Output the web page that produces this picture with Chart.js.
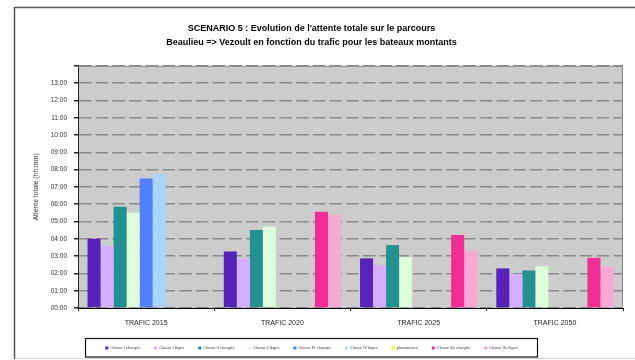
<!DOCTYPE html>
<html>
<head>
<meta charset="utf-8">
<script src="https://cdn.jsdelivr.net/npm/chart.js@4.4.0/dist/chart.umd.min.js"></script>
<style>
    html, body { margin: 0; padding: 0; background: #fff; }
    #wrap { width: 635px; height: 360px; position: relative; }
</style>
</head>
<body>
<div id="wrap"><canvas id="attenteChart" width="635" height="360"></canvas></div>
<script>
// Categories and series (hours)
const categories = ['TRAFIC 2015', 'TRAFIC 2020', 'TRAFIC 2025', 'TRAFIC 2050'];
const classeIChg = [4.0, 3.27, 2.87, 2.29];
const classeILeg = [3.58, 2.84, 2.48, 1.97];
const classeIIChg = [5.86, 4.51, 3.64, 2.17];
const classeIILeg = [5.51, 4.72, 2.94, 2.42];
const classeIVChg = [7.49, null, null, null];
const classeIVLeg = [7.74, null, null, null];
const plaisanciers = [null, null, null, null];
const classeVaChg = [null, 5.57, 4.22, 2.90];
const classeVaLeg = [null, 5.38, 3.33, 2.36];

const seriesLabels = ['Classe I chargés', 'Classe I lèges', 'Classe II chargés', 'Classe II lèges',
    'Classe IV chargés', 'Classe IV lèges', 'plaisanciers', 'Classe Va chargés', 'Classe Va lèges'];
const seriesColors = ['#5722B9', '#D4AFFF', '#239191', '#DCFDD8', '#5080FF', '#ABD5FF', '#FFFF00', '#EE2D97', '#F8A9D3'];
const seriesData = [classeIChg, classeILeg, classeIIChg, classeIILeg, classeIVChg, classeIVLeg, plaisanciers, classeVaChg, classeVaLeg];

const yMax = 14;
const titleLines = ["SCENARIO 5 : Evolution de l'attente totale sur le parcours",
    'Beaulieu => Vezoult en fonction du trafic pour les bateaux montants'];

function fmtHours(v) {
    const h = Math.floor(v);
    return String(h).padStart(2, '0') + ':00';
}

// plot background, plot border, outer frame and legend box
const framePlugin = {
    id: 'frame',
    beforeDraw(chart) {
        const { ctx, chartArea: a } = chart;
        ctx.save();
        ctx.fillStyle = '#CCCCCC';
        ctx.fillRect(a.left, a.top, a.right - a.left, a.bottom - a.top);
        ctx.restore();
    },
    afterDraw(chart) {
        const { ctx, chartArea: a } = chart;
        ctx.save();
        // plot border (top/right)
        ctx.strokeStyle = '#8c8c8c';
        ctx.lineWidth = 1;
        ctx.beginPath();
        ctx.moveTo(a.left, a.top + 0.5);
        ctx.lineTo(a.right - 0.5, a.top + 0.5);
        ctx.lineTo(a.right - 0.5, a.bottom);
        ctx.stroke();
        // outer frame
        ctx.strokeStyle = '#555';
        ctx.lineWidth = 1.5;
        ctx.beginPath();
        ctx.moveTo(635, 7.5);
        ctx.lineTo(14.5, 7.5);
        ctx.lineTo(14.5, 359);
        ctx.stroke();
        ctx.strokeStyle = '#d0d0d0';
        ctx.lineWidth = 1;
        ctx.beginPath();
        ctx.moveTo(15, 358.5);
        ctx.lineTo(635, 358.5);
        ctx.stroke();
        // legend box around the items
        const boxes = chart.legend.legendHitBoxes;
        if (boxes && boxes.length) {
            const first = boxes[0], last = boxes[boxes.length - 1];
            const left = Math.round(first.left) - 19.5;
            const right = Math.round(last.left + last.width) + 19.5;
            ctx.strokeStyle = '#111';
            ctx.lineWidth = 1.2;
            ctx.strokeRect(left, 338.5, right - left, 18.5);
        }
        ctx.restore();
    }
};

const ctx = document.getElementById('attenteChart').getContext('2d');
new Chart(ctx, {
    type: 'bar',
    data: {
        labels: categories,
        datasets: seriesData.map((d, i) => ({
            label: seriesLabels[i],
            data: d,
            backgroundColor: seriesColors[i],
            borderWidth: 0,
            categoryPercentage: 0.86,
            barPercentage: 1
        }))
    },
    options: {
        responsive: false,
        animation: false,
        devicePixelRatio: 1,
        layout: { padding: { left: 0, right: 12, top: 0, bottom: 0 } },
        scales: {
            x: {
                afterFit: s => { s.height = 24; },
                grid: { offset: true, drawOnChartArea: false, drawTicks: true, tickLength: 3, color: '#222' },
                border: { color: '#000', width: 1 },
                ticks: { color: '#222', padding: 8, font: { family: 'Liberation Sans, Arial', size: 7 } }
            },
            y: {
                min: 0,
                max: yMax,
                afterFit: s => { s.width = 78; },
                grid: { color: '#8a8a8a', lineWidth: 1.5, tickLength: 4, tickColor: '#222', tickBorderDash: [] },
                border: { color: '#222', width: 1, dash: [12.5, 4.2] },
                ticks: {
                    stepSize: 1,
                    color: '#333',
                    padding: 7,
                    font: { family: 'Liberation Sans, Arial', size: 6.5 },
                    callback: v => (v >= yMax ? '' : fmtHours(v))
                },
                title: {
                    display: true,
                    text: 'Attente totale (hh:mm)',
                    color: '#333',
                    font: { family: 'Liberation Sans, Arial', size: 6.8 },
                    padding: { top: 32, bottom: 0 }
                }
            }
        },
        plugins: {
            title: {
                display: true,
                text: titleLines,
                color: '#000',
                font: { family: 'Liberation Sans, Arial', size: 9, weight: 'bold', lineHeight: 1.55 },
                padding: { top: 22, bottom: 16 }
            },
            legend: {
                position: 'bottom',
                labels: {
                    boxWidth: 3,
                    boxHeight: 3,
                    padding: 14,
                    color: '#444',
                    font: { family: 'Liberation Sans, Arial', size: 4 }
                }
            },
            tooltip: { enabled: false }
        }
    },
    plugins: [framePlugin]
});
</script>
</body>
</html>
